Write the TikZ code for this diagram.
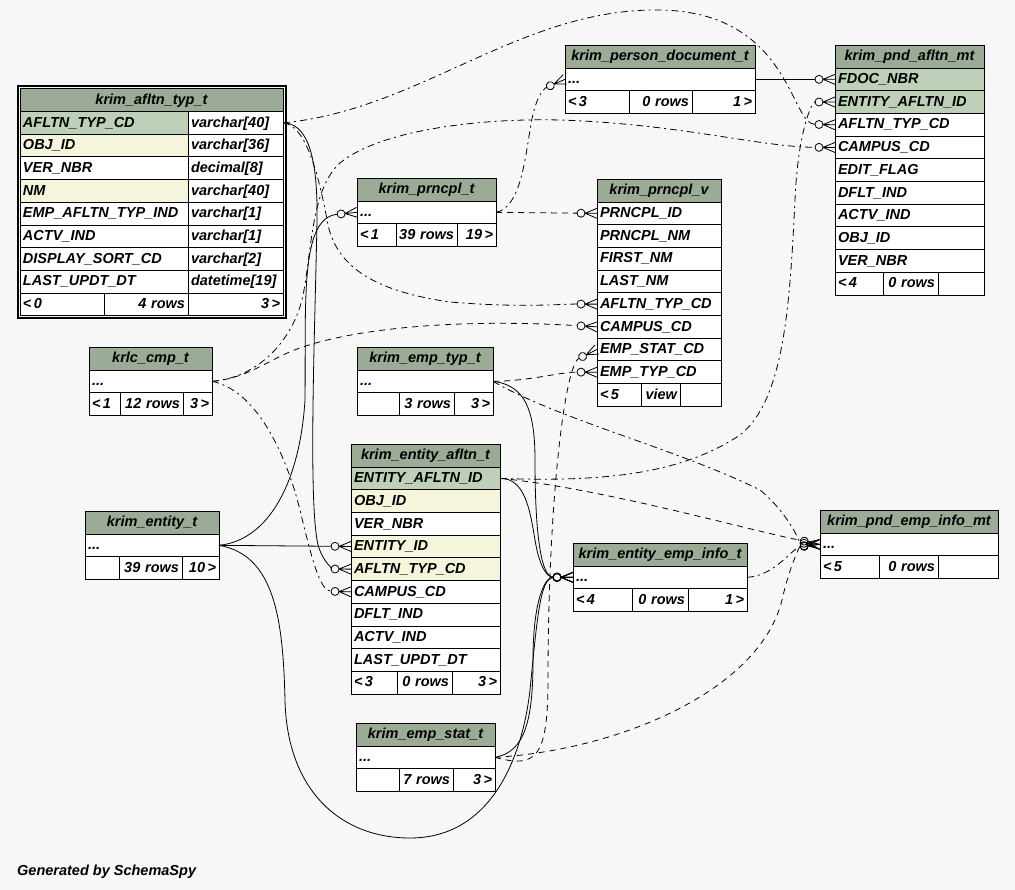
\documentclass[tikz,border=0pt]{standalone}
\usepackage{fontspec}
\setmainfont{Liberation Sans}
\usetikzlibrary{arrows.meta,fit}

\definecolor{canvas}{HTML}{F7F7F7}
\definecolor{headfill}{HTML}{9BAB96}
\definecolor{keyfill}{HTML}{BED1B8}
\definecolor{idxfill}{HTML}{F5F5DC}

% crow's foot with an open circle: "zero or many" end of a foreign key
\pgfdeclarearrow{
  name = crowodot,
  setup code = {
    \pgfarrowssettipend{0pt}
    \pgfarrowssetlineend{-20pt}
    \pgfarrowssetvisualbackend{-20pt}
    \pgfarrowssetbackend{-20pt}
    \pgfarrowshullpoint{0pt}{5pt}
    \pgfarrowshullpoint{0pt}{-5pt}
    \pgfarrowshullpoint{-20pt}{4pt}
    \pgfarrowshullpoint{-20pt}{-4pt}
  },
  drawing code = {
    \pgfsetdash{}{0pt}
    \pgfpathcircle{\pgfpoint{-16pt}{0pt}}{4pt}
    \pgfpathmoveto{\pgfpoint{-12pt}{0pt}}
    \pgfpathlineto{\pgfpoint{0pt}{5pt}}
    \pgfpathmoveto{\pgfpoint{-12pt}{0pt}}
    \pgfpathlineto{\pgfpoint{0pt}{0pt}}
    \pgfpathmoveto{\pgfpoint{-12pt}{0pt}}
    \pgfpathlineto{\pgfpoint{0pt}{-5pt}}
    \pgfusepathqstroke
  },
  defaults = {}
}

\newcommand\tabfont{\fontsize{14.5}{16}\selectfont\bfseries\itshape}

\tikzset{
  cellbase/.style={draw=black, line width=0.8pt, anchor=north west,
    inner xsep=3pt, inner ysep=0pt, outer sep=0pt, minimum height=22.7pt,
    text height=11pt, text depth=2.5pt, font=\tabfont},
  fkline/.style={line width=0.8pt, -{crowodot}},
  fksolid/.style={fkline},
  fkdash/.style={fkline, dash pattern=on 6pt off 5pt},
  fkdashdot/.style={fkline, dash pattern=on 7pt off 4pt on 2pt off 4pt},
  framebox/.style={draw=black, line width=2pt, inner sep=2.5pt},
}

% table header cell: name, x, y (top), width, text
\newcommand\tbhead[5]{%
  \pgfmathsetmacro\tbw{#4-6}%
  \node[cellbase, fill=headfill, align=center, text width=\tbw pt] (#1) at (#2,#3) {\mbox{#5}};}
% cell below another: [align] name, cell above, width, fill, text
\newcommand\tbrow[6][left]{%
  \pgfmathsetmacro\tbw{#4-6}%
  \node[cellbase, fill=#5, align=#1, text width=\tbw pt] (#2) at (#3.south west) {\mbox{#6}};}
% cell right of another: [align] name, cell to the left, width, fill, text
\newcommand\tbcol[6][left]{%
  \pgfmathsetmacro\tbw{#4-6}%
  \node[cellbase, fill=#5, align=#1, text width=\tbw pt] (#2) at (#3.north east) {\mbox{#6}};}

\begin{document}
\begin{tikzpicture}[x=1pt,y=-1pt]
\fill[canvas] (0,0) rectangle (1015,890);
\useasboundingbox (0,0) rectangle (1015,890);

% ---------------- krim_afltn_typ_t ----------------
\tbhead{afl}{20}{88.8}{263}{krim\_afltn\_typ\_t}
\tbrow{afl-c1}{afl}{168}{keyfill}{AFLTN\_TYP\_CD}\tbcol{afl-t1}{afl-c1}{95}{white}{varchar[40]}
\tbrow{afl-c2}{afl-c1}{168}{idxfill}{OBJ\_ID}\tbcol{afl-t2}{afl-c2}{95}{white}{varchar[36]}
\tbrow{afl-c3}{afl-c2}{168}{white}{VER\_NBR}\tbcol{afl-t3}{afl-c3}{95}{white}{decimal[8]}
\tbrow{afl-c4}{afl-c3}{168}{idxfill}{NM}\tbcol{afl-t4}{afl-c4}{95}{white}{varchar[40]}
\tbrow{afl-c5}{afl-c4}{168}{white}{EMP\_AFLTN\_TYP\_IND}\tbcol{afl-t5}{afl-c5}{95}{white}{varchar[1]}
\tbrow{afl-c6}{afl-c5}{168}{white}{ACTV\_IND}\tbcol{afl-t6}{afl-c6}{95}{white}{varchar[1]}
\tbrow{afl-c7}{afl-c6}{168}{white}{DISPLAY\_SORT\_CD}\tbcol{afl-t7}{afl-c7}{95}{white}{varchar[2]}
\tbrow{afl-c8}{afl-c7}{168}{white}{LAST\_UPDT\_DT}\tbcol{afl-t8}{afl-c8}{95}{white}{datetime[19]}
\tbrow{afl-f1}{afl-c8}{84}{white}{<\,0}\tbcol[right]{afl-f2}{afl-f1}{84}{white}{4 rows}\tbcol[right]{afl-f3}{afl-f2}{95}{white}{3\,>}
\node[framebox, fit=(afl)(afl-f1)(afl-f3)] (afl-frame) {};

% ---------------- krim_person_document_t ----------------
\tbhead{pdoc}{565}{45.3}{190}{krim\_person\_document\_t}
\tbrow{pdoc-r}{pdoc}{190}{white}{...}
\tbrow{pdoc-f1}{pdoc-r}{64}{white}{<\,3}\tbcol[right]{pdoc-f2}{pdoc-f1}{63}{white}{0 rows}\tbcol[right]{pdoc-f3}{pdoc-f2}{63}{white}{1\,>}

% ---------------- krim_pnd_afltn_mt ----------------
\tbhead{pafl}{835}{45.3}{149}{krim\_pnd\_afltn\_mt}
\tbrow{pafl-r1}{pafl}{149}{keyfill}{FDOC\_NBR}
\tbrow{pafl-r2}{pafl-r1}{149}{keyfill}{ENTITY\_AFLTN\_ID}
\tbrow{pafl-r3}{pafl-r2}{149}{white}{AFLTN\_TYP\_CD}
\tbrow{pafl-r4}{pafl-r3}{149}{white}{CAMPUS\_CD}
\tbrow{pafl-r5}{pafl-r4}{149}{white}{EDIT\_FLAG}
\tbrow{pafl-r6}{pafl-r5}{149}{white}{DFLT\_IND}
\tbrow{pafl-r7}{pafl-r6}{149}{white}{ACTV\_IND}
\tbrow{pafl-r8}{pafl-r7}{149}{white}{OBJ\_ID}
\tbrow{pafl-r9}{pafl-r8}{149}{white}{VER\_NBR}
\tbrow{pafl-f1}{pafl-r9}{48}{white}{<\,4}\tbcol[right]{pafl-f2}{pafl-f1}{55}{white}{0 rows}\tbcol[right]{pafl-f3}{pafl-f2}{46}{white}{}

% ---------------- krim_prncpl_t ----------------
\tbhead{prt}{357}{178.3}{139}{krim\_prncpl\_t}
\tbrow{prt-r}{prt}{139}{white}{...}
\tbrow{prt-f1}{prt-r}{39}{white}{<\,1}\tbcol[right]{prt-f2}{prt-f1}{61}{white}{39 rows}\tbcol[right]{prt-f3}{prt-f2}{39}{white}{19\,>}

% ---------------- krim_prncpl_v ----------------
\tbhead{prv}{597}{179.3}{124}{krim\_prncpl\_v}
\tbrow{prv-r1}{prv}{124}{white}{PRNCPL\_ID}
\tbrow{prv-r2}{prv-r1}{124}{white}{PRNCPL\_NM}
\tbrow{prv-r3}{prv-r2}{124}{white}{FIRST\_NM}
\tbrow{prv-r4}{prv-r3}{124}{white}{LAST\_NM}
\tbrow{prv-r5}{prv-r4}{124}{white}{AFLTN\_TYP\_CD}
\tbrow{prv-r6}{prv-r5}{124}{white}{CAMPUS\_CD}
\tbrow{prv-r7}{prv-r6}{124}{white}{EMP\_STAT\_CD}
\tbrow{prv-r8}{prv-r7}{124}{white}{EMP\_TYP\_CD}
\tbrow{prv-f1}{prv-r8}{44}{white}{<\,5}\tbcol[right]{prv-f2}{prv-f1}{39}{white}{view}\tbcol[right]{prv-f3}{prv-f2}{41}{white}{}

% ---------------- krlc_cmp_t ----------------
\tbhead{cmp}{89}{347.3}{123}{krlc\_cmp\_t}
\tbrow{cmp-r}{cmp}{123}{white}{...}
\tbrow{cmp-f1}{cmp-r}{31}{white}{<\,1}\tbcol[right]{cmp-f2}{cmp-f1}{63}{white}{12 rows}\tbcol[right]{cmp-f3}{cmp-f2}{29}{white}{3\,>}

% ---------------- krim_emp_typ_t ----------------
\tbhead{etyp}{357}{347.3}{136}{krim\_emp\_typ\_t}
\tbrow{etyp-r}{etyp}{136}{white}{...}
\tbrow{etyp-f1}{etyp-r}{42}{white}{}\tbcol[right]{etyp-f2}{etyp-f1}{55}{white}{3 rows}\tbcol[right]{etyp-f3}{etyp-f2}{39}{white}{3\,>}

% ---------------- krim_entity_afltn_t ----------------
\tbhead{eafl}{351}{444.3}{149}{krim\_entity\_afltn\_t}
\tbrow{eafl-r1}{eafl}{149}{keyfill}{ENTITY\_AFLTN\_ID}
\tbrow{eafl-r2}{eafl-r1}{149}{idxfill}{OBJ\_ID}
\tbrow{eafl-r3}{eafl-r2}{149}{white}{VER\_NBR}
\tbrow{eafl-r4}{eafl-r3}{149}{idxfill}{ENTITY\_ID}
\tbrow{eafl-r5}{eafl-r4}{149}{idxfill}{AFLTN\_TYP\_CD}
\tbrow{eafl-r6}{eafl-r5}{149}{white}{CAMPUS\_CD}
\tbrow{eafl-r7}{eafl-r6}{149}{white}{DFLT\_IND}
\tbrow{eafl-r8}{eafl-r7}{149}{white}{ACTV\_IND}
\tbrow{eafl-r9}{eafl-r8}{149}{white}{LAST\_UPDT\_DT}
\tbrow{eafl-f1}{eafl-r9}{46}{white}{<\,3}\tbcol[right]{eafl-f2}{eafl-f1}{55}{white}{0 rows}\tbcol[right]{eafl-f3}{eafl-f2}{48}{white}{3\,>}

% ---------------- krim_entity_t ----------------
\tbhead{ent}{85}{511.3}{134}{krim\_entity\_t}
\tbrow{ent-r}{ent}{134}{white}{...}
\tbrow{ent-f1}{ent-r}{34}{white}{}\tbcol[right]{ent-f2}{ent-f1}{63}{white}{39 rows}\tbcol[right]{ent-f3}{ent-f2}{37}{white}{10\,>}

% ---------------- krim_entity_emp_info_t ----------------
\tbhead{eei}{573}{543.3}{174}{krim\_entity\_emp\_info\_t}
\tbrow{eei-r}{eei}{174}{white}{...}
\tbrow{eei-f1}{eei-r}{59}{white}{<\,4}\tbcol[right]{eei-f2}{eei-f1}{56}{white}{0 rows}\tbcol[right]{eei-f3}{eei-f2}{59}{white}{1\,>}

% ---------------- krim_pnd_emp_info_mt ----------------
\tbhead{pei}{820}{510.3}{178}{krim\_pnd\_emp\_info\_mt}
\tbrow{pei-r}{pei}{178}{white}{...}
\tbrow{pei-f1}{pei-r}{59}{white}{<\,5}\tbcol[right]{pei-f2}{pei-f1}{59}{white}{0 rows}\tbcol[right]{pei-f3}{pei-f2}{60}{white}{}

% ---------------- krim_emp_stat_t ----------------
\tbhead{est}{356}{723.3}{139}{krim\_emp\_stat\_t}
\tbrow{est-r}{est}{139}{white}{...}
\tbrow{est-f1}{est-r}{43}{white}{}\tbcol[right]{est-f2}{est-f1}{54}{white}{7 rows}\tbcol[right]{est-f3}{est-f2}{42}{white}{3\,>}

% ---------------- relationships (parent -> child) ----------------
% krim_person_document_t
\draw[fksolid] (pdoc-r.east) -- (pafl-r1.west);
% krim_entity_afltn_t
\draw[fkdashdot] (eafl-r1.east) .. controls (600,482) and (680,475) .. (740,435)
  .. controls (785,400) and (790,300) .. (795,200)
  .. controls (798,130) and (812,102) .. (pafl-r2.west);
\draw[fksolid] (eafl-r1.east) .. controls (525,478) and (530,510) .. (535,540)
  .. controls (540,570) and (548,577) .. (eei-r.west);
\draw[fkdash] (eafl-r1.east) .. controls (600,488) and (740,528) .. (pei-r.west);
% krim_afltn_typ_t
\draw[fkdashdot] (afl-t1.east) .. controls (420,110) and (520,8) .. (660,10)
  .. controls (790,12) and (790,124) .. (pafl-r3.west);
\draw[fksolid] (afl-t1.east) .. controls (305,123) and (318,150) .. (317,220)
  .. controls (315,330) and (308,500) .. (318,545)
  .. controls (324,565) and (335,569) .. (eafl-r5.west);
\draw[fkdashdot] (afl-t1.east) .. controls (305,125) and (318,170) .. (328,225)
  .. controls (338,270) and (380,292) .. (450,302)
  .. controls (520,308) and (560,304) .. (prv-r5.west);
% krlc_cmp_t
\draw[fkdashdot] (cmp-r.east) .. controls (255,378) and (290,345) .. (302,300)
  .. controls (312,255) and (310,190) .. (340,163)
  .. controls (380,130) and (480,118) .. (560,120)
  .. controls (680,124) and (760,147) .. (pafl-r4.west);
\draw[fkdash] (cmp-r.east) .. controls (250,378) and (270,358) .. (300,348)
  .. controls (350,330) and (450,318) .. (prv-r6.west);
\draw[fkdashdot] (cmp-r.east) .. controls (255,390) and (285,450) .. (300,510)
  .. controls (312,560) and (320,591) .. (eafl-r6.west);
% krim_entity_t
\draw[fksolid] (ent-r.east) -- (eafl-r4.west);
\draw[fksolid] (ent-r.east) .. controls (270,540) and (300,480) .. (305,400)
  .. controls (306,300) and (300,218) .. (prt-r.west);
\draw[fksolid] (ent-r.east) .. controls (275,555) and (283,620) .. (285,700)
  .. controls (287,790) and (340,838) .. (410,838)
  .. controls (490,838) and (522,760) .. (530,690)
  .. controls (537,620) and (540,578) .. (eei-r.west);
% krim_prncpl_t
\draw[fkdash] (prt-r.east) -- (prv-r1.west);
\draw[fkdashdot] (prt-r.east) .. controls (520,208) and (525,160) .. (530,130)
  .. controls (535,95) and (545,88) .. (pdoc-r.west);
% krim_emp_typ_t
\draw[fkdash] (etyp-r.east) .. controls (530,381) and (560,372) .. (prv-r8.west);
\draw[fksolid] (etyp-r.east) .. controls (525,385) and (535,410) .. (535,460)
  .. controls (535,540) and (542,577) .. (eei-r.west);
\draw[fkdashdot] (etyp-r.east) .. controls (560,420) and (680,450) .. (760,490)
  .. controls (790,515) and (800,543) .. (pei-r.west);
% krim_emp_stat_t
\draw[fkdash] (est-r.east) .. controls (535,768) and (548,760) .. (548,680)
  .. controls (548,500) and (565,365) .. (prv-r7.west);
\draw[fksolid] (est-r.east) .. controls (525,752) and (533,720) .. (533,660)
  .. controls (533,600) and (545,577) .. (eei-r.west);
\draw[fkdash] (est-r.east) .. controls (620,750) and (760,690) .. (782,600)
  .. controls (790,565) and (800,546) .. (pei-r.west);
% krim_entity_emp_info_t
\draw[fkdashdot] (eei-r.east) .. controls (775,576) and (792,548) .. (pei-r.west);

\node[anchor=base west, font=\fontsize{14.5}{16}\selectfont\bfseries\itshape, inner sep=0pt] (credit) at (17,875) {Generated by SchemaSpy};
\end{tikzpicture}
\end{document}
